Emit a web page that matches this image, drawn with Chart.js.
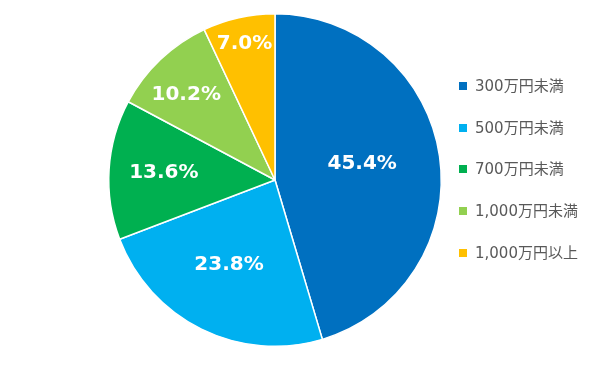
<!DOCTYPE html>
<html>
<head>
<meta charset="utf-8">
<script src="https://cdn.jsdelivr.net/npm/chart.js@4/dist/chart.umd.min.js"></script>
<style>
  html, body { margin: 0; padding: 0; background: #fff; }
  #wrap { position: relative; width: 600px; height: 366px; }
  #legend { position: absolute; left: 459px; top: 75px; margin: 0; padding: 0; list-style: none;
            font: 15px "DejaVu Sans", "Noto Sans CJK JP", sans-serif; color: #595959; }
  #legend li { height: 41.7px; line-height: 22px; white-space: nowrap; }
  #legend span { display: inline-block; width: 8px; height: 8px; margin-right: 8px; vertical-align: 1px; }
</style>
</head>
<body>
<div id="wrap">
  <canvas id="incomeChart" width="600" height="366"></canvas>
  <ul id="legend"></ul>
</div>
<script>
// 世帯年収の内訳
const categories = ['300万円未満', '500万円未満', '700万円未満', '1,000万円未満', '1,000万円以上'];
const shares = [45.4, 23.8, 13.6, 10.2, 7.0];
const sliceColors = ['#0070C0', '#00B0F0', '#00B050', '#92D050', '#FFC000'];

// labels sit further out on the small slices, like the original
const labelRadius = [0.53, 0.57, 0.67, 0.74, 0.84];
const labelNudge = [[0, -4], [-4, 0], [0, 0], [-4, 4], [0, 0]];

const sliceLabels = {
    id: 'sliceLabels',
    afterDatasetsDraw(chart) {
        const ctx = chart.ctx;
        const meta = chart.getDatasetMeta(0);
        ctx.save();
        ctx.fillStyle = '#ffffff';
        ctx.font = 'bold 20px "DejaVu Sans", sans-serif';
        ctx.textAlign = 'center';
        ctx.textBaseline = 'middle';
        meta.data.forEach((arc, i) => {
            const p = arc.getProps(['x', 'y', 'startAngle', 'endAngle', 'outerRadius'], true);
            const mid = (p.startAngle + p.endAngle) / 2;
            const r = p.outerRadius * labelRadius[i];
            ctx.fillText(shares[i].toFixed(1) + '%',
                p.x + Math.cos(mid) * r + labelNudge[i][0],
                p.y + Math.sin(mid) * r + labelNudge[i][1]);
        });
        ctx.restore();
    }
};

const incomeCtx = document.getElementById('incomeChart').getContext('2d');
new Chart(incomeCtx, {
    type: 'pie',
    data: {
        labels: categories,
        datasets: [{
            data: shares,
            backgroundColor: sliceColors,
            borderColor: '#ffffff',
            borderWidth: 1.5
        }]
    },
    options: {
        responsive: false,
        animation: false,
        layout: { padding: { top: 13, bottom: 19, left: 0, right: 50 } },
        plugins: {
            tooltip: { enabled: false },
            legend: { display: false }
        }
    },
    plugins: [sliceLabels]
});

// legend on the right
const legendList = document.getElementById('legend');
categories.forEach((name, i) => {
    legendList.innerHTML += `<li><span style="background:${sliceColors[i]}"></span>${name}</li>`;
});
</script>
</body>
</html>
